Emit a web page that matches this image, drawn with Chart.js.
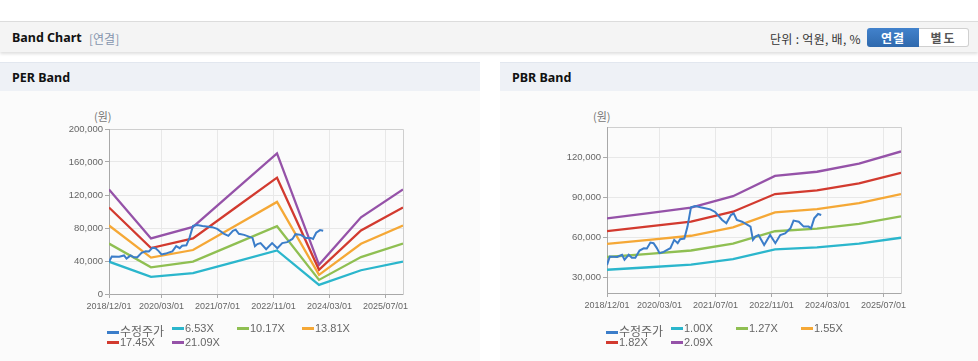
<!DOCTYPE html>
<html>
<head>
<meta charset="utf-8">
<script src="https://cdn.jsdelivr.net/npm/chart.js@4/dist/chart.umd.min.js"></script>
<style>
  html,body{margin:0;padding:0;}
  body{width:978px;height:361px;overflow:hidden;background:#fff;position:relative;font-family:"Liberation Sans","Noto Sans CJK KR",sans-serif;}
  .abs{position:absolute;}
  .hdr{left:0;top:21px;width:978px;height:30px;background:#f4f4f4;border-top:1px solid #dcdcdc;box-shadow:0 2px 3px rgba(0,0,0,0.13);}
  .hdr .t{left:12px;top:7px;font:bold 12.5px "Noto Sans","Noto Sans CJK KR",sans-serif;color:#111;}
  .hdr .s{left:89px;top:8px;font:12px "Noto Sans CJK KR",sans-serif;color:#8595ad;}
  .hdr .u{left:770px;top:8px;font:12px "Noto Sans CJK KR",sans-serif;color:#333;letter-spacing:0.3px;}
  .btn1{left:867px;top:6px;width:52px;height:19px;background:linear-gradient(#4282cc,#2f69ad);border-radius:3px 0 0 3px;color:#fff;font:bold 12px "Noto Sans CJK KR",sans-serif;text-align:center;line-height:19px;letter-spacing:1px;}
  .btn2{left:919px;top:6px;width:49px;height:17px;background:#fff;border:1px solid #d0d0d0;border-left:none;border-radius:0 3px 3px 0;color:#555;font:bold 12px "Noto Sans CJK KR",sans-serif;text-align:center;line-height:17px;letter-spacing:2px;}
  .panel{top:62px;height:299px;background:#fbfbfb;}
  .ptitle{left:0;top:0;right:0;height:28px;background:#eef1f6;border-top:1px solid #e2e7ef;}
  .ptitle span{position:absolute;left:12px;top:6px;font:bold 12.5px "Noto Sans","Noto Sans CJK KR",sans-serif;color:#111;}
  .unit{font:11px "Noto Sans CJK KR",sans-serif;color:#777;}
  .lg{font:11px "Liberation Sans","Noto Sans CJK KR",sans-serif;color:#666;white-space:nowrap;}
  .lg i{display:inline-block;width:12px;height:3px;vertical-align:middle;margin-right:1px;position:relative;top:-1px;}
  .lg .kr{font-family:"Noto Sans CJK KR",sans-serif;font-size:12px;}
</style>
</head>
<body>
<div class="abs hdr">
  <span class="abs t">Band Chart</span>
  <span class="abs s">[연결]</span>
  <span class="abs u">단위 : 억원, 배, %</span>
  <div class="abs btn1">연결</div>
  <div class="abs btn2">별도</div>
</div>
<div class="abs panel" style="left:0;width:480px;"><div class="abs ptitle"><span>PER Band</span></div></div>
<div class="abs panel" style="left:500px;width:478px;"><div class="abs ptitle"><span>PBR Band</span></div></div>

<div class="abs unit" style="left:94px;top:108px;">(원)</div>
<div class="abs unit" style="left:593px;top:108px;">(원)</div>

<canvas id="per" class="abs" width="480" height="230" style="left:0;top:100px;"></canvas>
<canvas id="pbr" class="abs" width="478" height="230" style="left:500px;top:100px;"></canvas>

<div id="lgPer"></div>
<div id="lgPbr"></div>

<script>
// ---------- DATA ----------
const xTickLabels = ['2018/12/01','2020/03/01','2021/07/01','2022/11/01','2024/03/01','2025/07/01'];
const xMinLabel = '2018/12/01';
const xMaxLabel = '2025/12/01';

const bandDates = ['2018/12/01','2019/12/01','2020/12/01','2021/12/01','2022/12/01','2023/12/01','2024/12/01','2025/12/01'];

const perLabels = ['6.53X','10.17X','13.81X','17.45X','21.09X'];
const per653  = [39200, 20800, 25200, 39000, 52800, 11000, 28800, 39200];
const per1017 = [61100, 32400, 39300, 60700, 82200, 17100, 44800, 61100];
const per1381 = [83000, 44100, 53300, 82400, 111600, 23200, 60900, 83000];
const per1745 = [104900, 55700, 67400, 104200, 141000, 29300, 77000, 104900];
const per2109 = [126800, 67300, 81400, 125900, 170400, 35400, 93000, 126800];

const pbrLabels = ['1.00X','1.27X','1.55X','1.82X','2.09X'];
const pbr100 = [35500, 37400, 39400, 43500, 50800, 52300, 55200, 59600];
const pbr127 = [45100, 47500, 50000, 55200, 64500, 66400, 70100, 75700];
const pbr155 = [55000, 58000, 61100, 67400, 78700, 81100, 85600, 92400];
const pbr182 = [64600, 68100, 71700, 79200, 92500, 95200, 100500, 108500];
const pbr209 = [74200, 78200, 82300, 90900, 106200, 109300, 115400, 124600];

const priceLabel = '수정주가';
const priceDates = ['2018/12/01','2018/12/25','2019/02/28','2019/04/10','2019/05/01','2019/06/07','2019/07/04','2019/08/04',
  '2019/09/10','2019/10/16','2019/11/13','2019/12/13','2020/01/10','2020/02/07','2020/03/01','2020/04/07','2020/05/07',
  '2020/06/04','2020/07/07','2020/08/07','2020/08/28','2020/10/04','2020/11/01','2020/12/01','2021/01/07','2021/02/22',
  '2021/05/16','2021/06/28','2021/08/28','2021/10/04','2021/11/13','2021/12/07','2022/01/04','2022/02/19','2022/05/01',
  '2022/05/22','2022/06/13','2022/07/10','2022/08/28','2022/10/19','2022/12/04','2023/01/16','2023/02/28','2023/04/13',
  '2023/05/10','2023/06/25','2023/08/07','2023/09/19','2023/10/10','2023/11/07','2023/12/10','2024/01/07'];
const priceValues = [39000,45500,45200,46700,43000,46800,44500,44500,
  50000,51700,51500,56000,55500,52000,48000,49000,50500,
  51700,58000,55500,58500,59000,68000,82500,83500,82500,
  81000,79000,73000,70500,76700,78000,73000,71700,68000,
  58000,60500,61700,54200,61700,55500,61700,62900,66700,
  72500,71700,68000,68000,66700,74200,77500,76700];

// ---------- STYLE ----------
const priceColor = '#3b7dc9';
const bandColors = ['#2bb6cc','#8fbf52','#f5a836','#d23a2f','#9552a8'];

function monthIndex(s){ const p = s.split('/').map(Number); return (p[0]-2018)*12 + (p[1]-12) + (p[2]-1)/30; }
const xTickMonths = xTickLabels.map(monthIndex);

function pts(dates, vals){ return dates.map((d,i)=>({x:monthIndex(d), y:vals[i]})); }

const framePlugin = {
  id:'frame',
  beforeDatasetsDraw(chart){
    const a = chart.chartArea, c = chart.ctx;
    c.save(); c.lineWidth = 1;
    c.strokeStyle = '#cfcfcf';
    c.beginPath(); c.moveTo(a.left, a.top+0.5); c.lineTo(a.right+0.5, a.top+0.5); c.lineTo(a.right+0.5, a.bottom); c.stroke();
    c.strokeStyle = '#a8a8a8';
    c.beginPath(); c.moveTo(a.left+0.5, a.top); c.lineTo(a.left+0.5, a.bottom+0.5); c.lineTo(a.right+0.5, a.bottom+0.5); c.stroke();
    c.restore();
  }
};

function makeChart(id, bands, labels, yOpts, yWidth, pad){
  const datasets = [{label:priceLabel, data:pts(priceDates, priceValues), borderColor:priceColor, borderWidth:2}];
  bands.forEach((b,i)=>datasets.push({label:labels[i], data:pts(bandDates,b), borderColor:bandColors[i], borderWidth:2.3}));
  datasets.forEach(d=>{ d.pointRadius=0; d.tension=0; d.fill=false; d.backgroundColor=d.borderColor; });
  return new Chart(document.getElementById(id), {
    type:'line',
    data:{datasets},
    options:{
      responsive:false, animation:false,
      layout:{padding:pad},
      plugins:{legend:{display:false}, tooltip:{enabled:false}},
      scales:{
        x:{type:'linear', min:monthIndex(xMinLabel), max:monthIndex(xMaxLabel),
          afterBuildTicks(s){ s.ticks = xTickMonths.map(v=>({value:v})); },
          afterFit(s){ s.height = 20; },
          border:{display:false},
          grid:{color:'#e8e8e8', tickColor:'#aaa', tickLength:4},
          ticks:{autoSkip:false, maxRotation:0, padding:3, color:'#666', font:{family:'Liberation Sans', size:9},
            callback(v){ const i = xTickMonths.findIndex(m=>Math.abs(m-v)<1e-6); return i>=0 ? xTickLabels[i] : ''; }}
        },
        y:Object.assign({
          afterFit(s){ s.width = yWidth; },
          border:{display:false},
          grid:{color:'#e8e8e8', tickColor:'#aaa', tickLength:4},
          ticks:{padding:2, color:'#666', font:{family:'Liberation Sans', size:9.5},
            callback(v){ return Number(v).toLocaleString('en-US'); }}
        }, yOpts)
      }
    },
    plugins:[framePlugin]
  });
}

const perYTicks = [0,40000,80000,120000,160000,200000];
const pbrYTicks = [30000,60000,90000,120000];

makeChart('per', [per653,per1017,per1381,per1745,per2109], perLabels,
  {min:0, max:200000, afterBuildTicks(s){ s.ticks = perYTicks.map(v=>({value:v})); }},
  109, {left:0, top:29, right:77, bottom:16});
makeChart('pbr', [pbr100,pbr127,pbr155,pbr182,pbr209], pbrLabels,
  {min:18000, max:143000, afterBuildTicks(s){ s.ticks = pbrYTicks.map(v=>({value:v})); }},
  107, {left:0, top:27, right:77, bottom:17});

// ---------- HTML legends ----------
function legend(id, left, labels){
  const el = document.getElementById(id);
  const items = [{t:priceLabel,c:priceColor,kr:true}].concat(labels.map((t,i)=>({t,c:bandColors[i]})));
  items.forEach((it,i)=>{
    const d = document.createElement('div');
    d.className = 'abs lg';
    const col = i % 4, row = Math.floor(i/4);
    d.style.left = (left + col*65) + 'px';
    d.style.top = (322 + row*14) + 'px';
    d.innerHTML = '<i style="background:'+it.c+'"></i><span class="'+(it.kr?'kr':'')+'">'+it.t+'</span>';
    el.appendChild(d);
  });
}
legend('lgPer', 107, perLabels);
legend('lgPbr', 606, pbrLabels);
</script>
</body>
</html>
